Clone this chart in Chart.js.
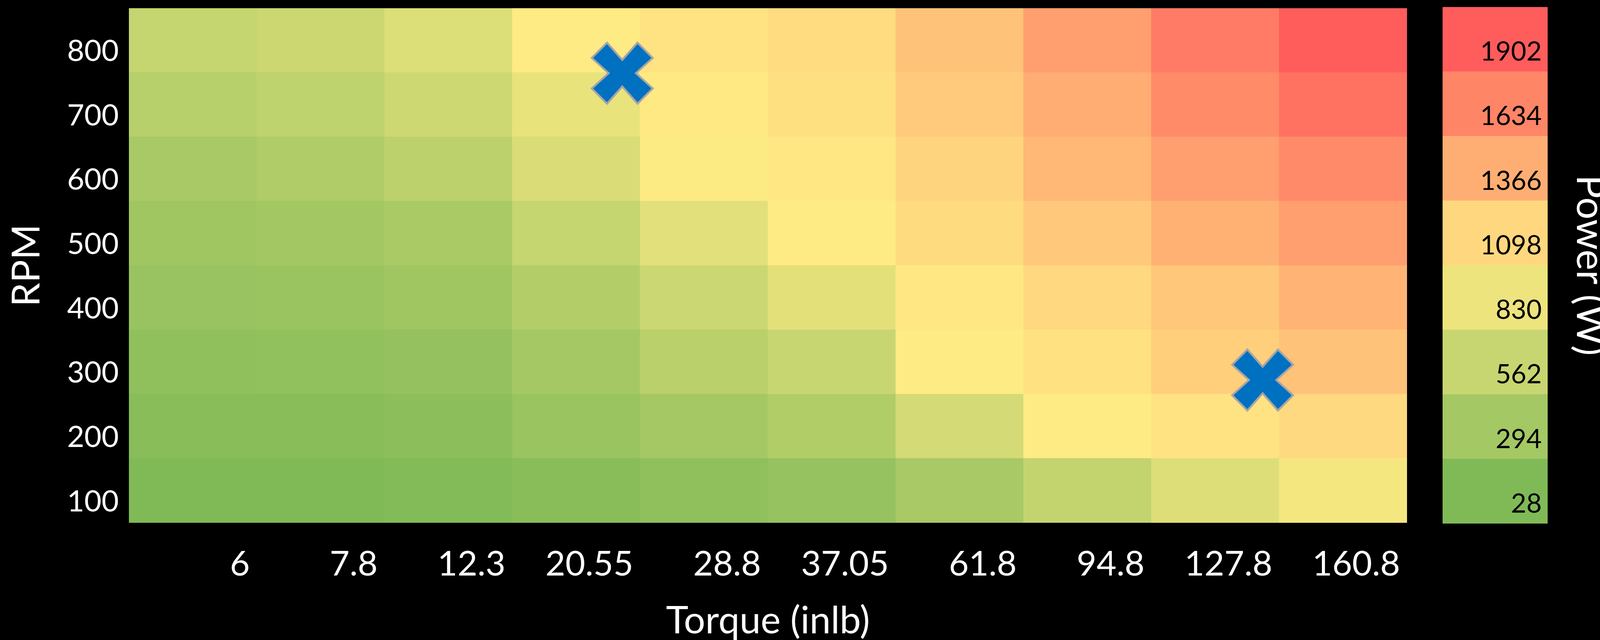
<!DOCTYPE html>
<html>
<head>
<meta charset="utf-8">
<script src="https://cdn.jsdelivr.net/npm/chart.js@4/dist/chart.umd.min.js"></script>
<style>
    html, body { margin: 0; padding: 0; background: #000; overflow: hidden; }
    #wrap { position: relative; width: 4145px; height: 1638px; }
    #heatmap { position: absolute; left: 0; top: 0; }
    #colorbar { position: absolute; left: 3693px; top: 0; }
</style>
</head>
<body>
<div id="wrap">
    <canvas id="heatmap" width="3640" height="1638"></canvas>
    <canvas id="colorbar" width="452" height="1638"></canvas>
</div>
<script>
// categories
const torqueLabels = ["6", "7.8", "12.3", "20.55", "28.8", "37.05", "61.8", "94.8", "127.8", "160.8"];
const rpmLabels = ["100", "200", "300", "400", "500", "600", "700", "800"];

// power (W) per rpm row, one value per torque column
const power100 = [28, 30, 43, 87, 139, 190, 323, 522, 722, 891];
const power200 = [87, 94, 116, 213, 301, 389, 648, 965, 1017, 1083];
const power300 = [139, 154, 183, 301, 449, 559, 965, 1030, 1150, 1234];
const power400 = [205, 220, 264, 405, 582, 759, 985, 1090, 1201, 1326];
const power500 = [264, 286, 338, 537, 751, 965, 1070, 1194, 1345, 1469];
const power600 = [323, 375, 470, 684, 943, 991, 1116, 1299, 1463, 1600];
const power700 = [441, 485, 596, 803, 978, 1037, 1181, 1372, 1594, 1758];
const power800 = [537, 589, 707, 965, 1017, 1063, 1234, 1463, 1699, 1905];

// colour scale legend ticks
const powerTicks = [28, 294, 562, 830, 1098, 1366, 1634, 1902];

// highlighted operating points, in cell-index units (column centre = index)
const markerTorqueIdx = [3.36, 8.37];
const markerRpmIdx = [6.99, 2.22];

(function () {
    const FONT = "Lato, 'Open Sans', sans-serif";
    const GREEN = [128, 186, 87];
    const YELLOW = [255, 235, 132];
    const RED = [255, 92, 92];

    const rows = [power100, power200, power300, power400, power500, power600, power700, power800];
    const minP = powerTicks[0];
    const maxP = powerTicks[powerTicks.length - 1];
    const midP = (minP + maxP) / 2;

    function mix(a, b, t) {
        t = Math.max(0, Math.min(1, t));
        return "rgb(" + a.map((c, i) => Math.round(c + (b[i] - c) * t)).join(",") + ")";
    }

    function powerColor(value) {
        if (value <= midP) return mix(GREEN, YELLOW, (value - minP) / (midP - minP));
        return mix(YELLOW, RED, (value - midP) / (maxP - midP));
    }

    // keep tick labels from pushing the plot area around
    function fixedSize(prop, size) {
        return (axis) => {
            axis[prop] = size;
            axis.paddingLeft = 0;
            axis.paddingRight = 0;
            axis.paddingTop = 0;
            axis.paddingBottom = 0;
        };
    }

    function makeCrossMarker() {
        const size = 176;
        const c = document.createElement("canvas");
        c.width = size;
        c.height = size;
        const ctx = c.getContext("2d");
        const pts = [[0, -34], [39, -78], [78, -39], [35, 0], [78, 39], [39, 78],
                     [0, 34], [-39, 78], [-78, 39], [-35, 0], [-78, -39], [-39, -78]];
        ctx.translate(size / 2, size / 2);
        ctx.beginPath();
        pts.forEach((p, i) => (i ? ctx.lineTo(p[0], p[1]) : ctx.moveTo(p[0], p[1])));
        ctx.closePath();
        ctx.fillStyle = "#0070C0";
        ctx.fill();
        ctx.lineWidth = 5;
        ctx.strokeStyle = "#A5A5A5";
        ctx.stroke();
        return c;
    }

    Chart.defaults.font.family = FONT;

    const cellSets = rows.map((row, k) => ({
        type: "bar",
        data: row.map(() => [k, k + 1]),
        backgroundColor: row.map(powerColor),
        borderWidth: 0,
        grouped: false,
        barPercentage: 1,
        categoryPercentage: 1,
        inflateAmount: 0.6,
        order: 2
    }));

    const markerSet = {
        type: "scatter",
        data: markerTorqueIdx.map((x, i) => ({ x, y: markerRpmIdx[i] })),
        xAxisID: "xm",
        yAxisID: "y",
        pointStyle: makeCrossMarker(),
        order: 0
    };

    new Chart(document.getElementById("heatmap"), {
        type: "bar",
        data: { labels: torqueLabels, datasets: [...cellSets, markerSet] },
        options: {
            responsive: false,
            animation: false,
            devicePixelRatio: 1,
            layout: { padding: { top: 21, right: 38, bottom: 0, left: 0 } },
            plugins: { legend: { display: false }, tooltip: { enabled: false } },
            scales: {
                x: {
                    type: "category",
                    offset: true,
                    grid: { display: false },
                    border: { display: false },
                    ticks: {
                        color: "#fff",
                        font: { size: 88 },
                        align: "end",
                        labelOffset: 146,
                        padding: 46,
                        maxRotation: 0,
                        autoSkip: false
                    },
                    title: {
                        display: true,
                        text: "Torque (inlb)",
                        color: "#fff",
                        font: { size: 97, lineHeight: 1 },
                        padding: 0
                    },
                    afterFit: fixedSize("height", 300)
                },
                xm: { type: "linear", min: -0.5, max: 9.5, offset: false, display: false },
                y: {
                    type: "linear",
                    min: 0,
                    max: 8,
                    grid: { display: false },
                    border: { display: false },
                    ticks: {
                        stepSize: 1,
                        color: "#fff",
                        font: { size: 76 },
                        padding: 18,
                        labelOffset: -54,
                        callback: (v) => rpmLabels[v] || ""
                    },
                    title: {
                        display: true,
                        text: "RPM",
                        color: "#fff",
                        font: { size: 98, lineHeight: 1 },
                        padding: { top: 20, bottom: 0 }
                    },
                    afterFit: fixedSize("width", 330)
                }
            }
        }
    });

    new Chart(document.getElementById("colorbar"), {
        type: "bar",
        data: {
            labels: ["Power"],
            datasets: powerTicks.map((p, k) => ({
                data: [[k, k + 1]],
                backgroundColor: powerColor(p),
                borderWidth: 0,
                grouped: false,
                barPercentage: 1,
                categoryPercentage: 1,
                inflateAmount: 0.6
            }))
        },
        options: {
            responsive: false,
            animation: false,
            devicePixelRatio: 1,
            layout: { padding: { top: 18, right: 0, bottom: 298, left: 0 } },
            plugins: { legend: { display: false }, tooltip: { enabled: false } },
            scales: {
                x: { display: false, offset: true, afterFit: fixedSize("height", 0) },
                y: {
                    position: "right",
                    min: 0,
                    max: 8,
                    grid: { display: false },
                    border: { display: false },
                    ticks: {
                        stepSize: 1,
                        mirror: true,
                        z: 1,
                        color: "#000",
                        font: { size: 68 },
                        padding: -15,
                        labelOffset: -50,
                        callback: (v) => (powerTicks[v] === undefined ? "" : String(powerTicks[v]))
                    },
                    title: {
                        display: true,
                        text: "Power (W)",
                        color: "#fff",
                        font: { size: 100, lineHeight: 1 },
                        padding: { top: 26, bottom: 0 }
                    },
                    afterFit: fixedSize("width", 183)
                }
            }
        }
    });
})();
</script>
</body>
</html>
